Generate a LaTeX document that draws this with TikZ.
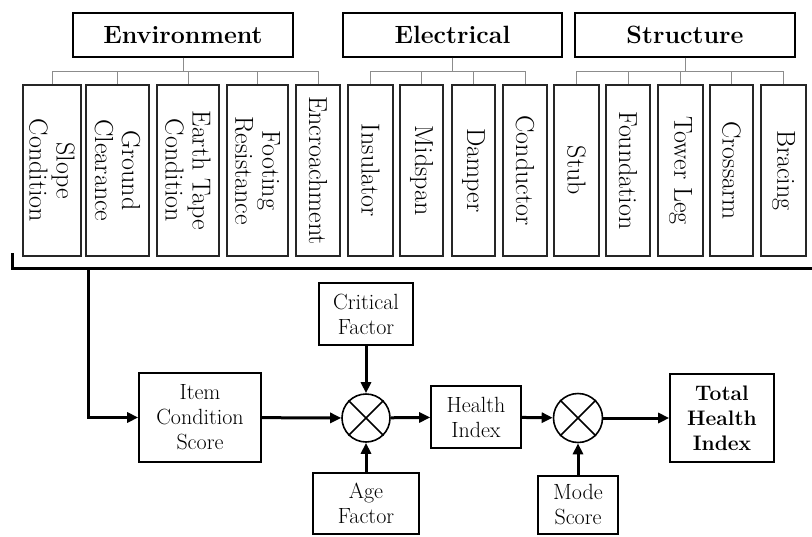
\documentclass[tikz,border=0pt]{standalone}
\usetikzlibrary{arrows.meta}
\begin{document}
\begin{tikzpicture}[x=1pt,y=-1pt,
  catbox/.style={draw=black,line width=1.6pt,inner sep=0pt,minimum height=44,font=\fontsize{25}{29}\selectfont\bfseries},
  itembox/.style={draw=black!85,line width=1.5pt,inner sep=0pt,rotate=-90,minimum width=171,align=center,font=\fontsize{26}{27}\selectfont},
  conn/.style={draw=black!45,line width=1pt},
  flowbox/.style={draw=black,line width=1.6pt,inner sep=0pt,align=center,font=\fontsize{22}{25}\selectfont},
  mult/.style={draw=black,line width=1.6pt,circle,inner sep=0pt,minimum size=48},
  flow/.style={line width=3pt,-{Triangle[length=11pt,width=10pt]}},
  bracket/.style={line width=3pt}]
\useasboundingbox (0,0) rectangle (812,536);
% categories
\node[catbox,minimum width=220] (env) at (183,35) {Environment};
\node[catbox,minimum width=219] (elec) at (452.5,35) {Electrical};
\node[catbox,minimum width=220] (struc) at (685,35) {Structure};
% items
\node[itembox,minimum height=58] (slope) at (52,170.5) {Slope\\Condition};
\node[itembox,minimum height=63] (ground) at (117.5,170.5) {Ground\\Clearance};
\node[itembox,minimum height=62] (earth) at (188,170.5) {Earth Tape\\Condition};
\node[itembox,minimum height=61] (footing) at (257.5,170.5) {Footing\\Resistance};
\node[itembox,minimum height=44] (encr) at (318,170.5) {Encroachment};
\node[itembox,minimum height=45] (insul) at (370.5,170.5) {Insulator};
\node[itembox,minimum height=43] (midspan) at (421.5,170.5) {Midspan};
\node[itembox,minimum height=43] (damper) at (473.5,170.5) {Damper};
\node[itembox,minimum height=44] (conductor) at (525,170.5) {Conductor};
\node[itembox,minimum height=45] (stub) at (576.5,170.5) {Stub};
\node[itembox,minimum height=44] (foundation) at (628,170.5) {Foundation};
\node[itembox,minimum height=45] (towerleg) at (680.5,170.5) {Tower Leg};
\node[itembox,minimum height=43] (crossarm) at (731.5,170.5) {Crossarm};
\node[itembox,minimum height=45] (bracing) at (783.5,170.5) {Bracing};
% tree connectors
\foreach \c in {slope,ground,earth,footing,encr}
  \draw[conn] (env.south) -- ++(0,14) -| (\c);
\foreach \c in {insul,midspan,damper,conductor}
  \draw[conn] (elec.south) -- ++(0,14) -| (\c);
\foreach \c in {stub,foundation,towerleg,crossarm,bracing}
  \draw[conn] (struc.south) -- ++(0,14) -| (\c);
% bracket
\coordinate (bl) at (12,253);
\coordinate (bc) at (12,268);
\coordinate (br) at (812,268);
\coordinate (bd) at (88,268);
\draw[bracket] (bl) -- (bc) -- (br);
% bottom flow
\node[flowbox,minimum width=94,minimum height=62] (crit) at (366,314) {Critical\\Factor};
\node[flowbox,minimum width=122,minimum height=89] (ics) at (200,417.5) {Item\\Condition\\Score};
\node[mult] (m1) at (366,418) {};
\node[flowbox,minimum width=106,minimum height=61] (age) at (366,503.5) {Age\\Factor};
\node[flowbox,minimum width=90,minimum height=62] (hi) at (476,417) {Health\\Index};
\node[mult,minimum size=49] (m2) at (578,418) {};
\node[flowbox,minimum width=80,minimum height=58] (mode) at (578,505) {Mode\\Score};
\node[flowbox,minimum width=104,minimum height=88,font=\fontsize{21}{25}\selectfont\bfseries] (thi) at (722,418) {Total\\Health\\Index};
\draw[line width=1.6pt] (m1.45) -- (m1.225) (m1.135) -- (m1.315);
\draw[line width=1.6pt] (m2.45) -- (m2.225) (m2.135) -- (m2.315);
\draw[flow] (bd) |- (ics.west);
\draw[flow] (ics) -- (m1);
\draw[flow] (crit) -- (m1);
\draw[flow] (age) -- (m1);
\draw[flow] (m1) -- (hi);
\draw[flow] (hi) -- (m2);
\draw[flow] (mode) -- (m2);
\draw[flow] (m2) -- (thi);
\end{tikzpicture}
\end{document}
